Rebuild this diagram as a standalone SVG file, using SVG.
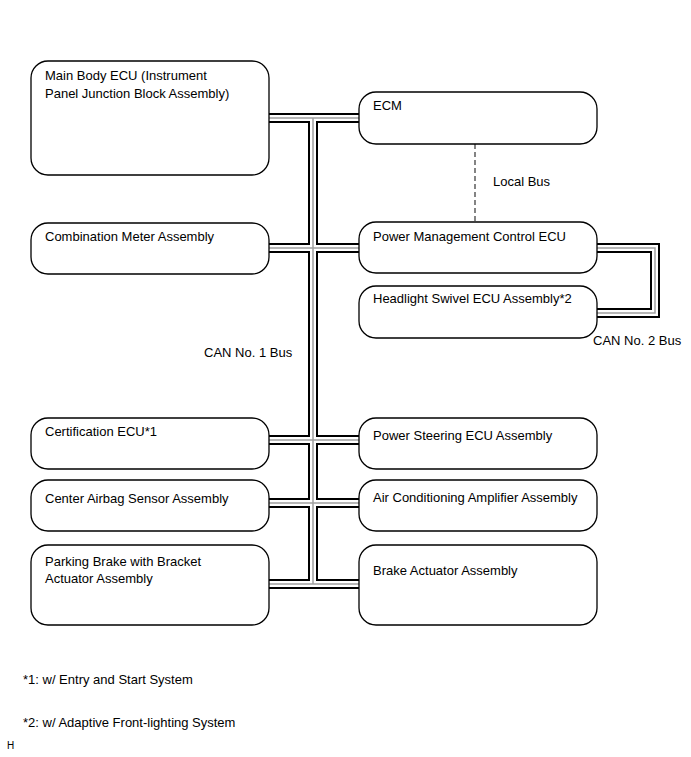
<svg xmlns="http://www.w3.org/2000/svg" width="691" height="757" viewBox="0 0 691 757">
<style>
.box{fill:#fff;stroke:#000;stroke-width:1.3}
.t{font-family:"Liberation Sans",Arial,sans-serif;font-size:13px;fill:#000}
.b1{fill:none;stroke:#000;stroke-width:10}
.b2{fill:none;stroke:#fff;stroke-width:6}
.b3{fill:none;stroke:#a0a0a0;stroke-width:1.5}
</style>
<rect width="691" height="757" fill="#fff"/>
<g id="connectors">
<g class="b1">
<path d="M269 118H359M313 118V584M269 248H359M269 440H359M269 503H359M269 584H359M597 248H655V313H597"/>
</g>
<g class="b2">
<path d="M269 118H359M313 118V584M269 248H359M269 440H359M269 503H359M269 584H359M597 248H655V313H597"/>
</g>
<g class="b3">
<path d="M269 118H359M313 118V584M269 248H359M269 440H359M269 503H359M269 584H359M597 248H655V313H597"/>
</g>
<line x1="475" y1="144" x2="475" y2="222" stroke="#333" stroke-width="1.2" stroke-dasharray="5,3"/>
<text class="t" x="493" y="186">Local Bus</text>
<text class="t" x="204" y="357">CAN No. 1 Bus</text>
<text class="t" x="593" y="345">CAN No. 2 Bus</text>
</g>
<g id="main-body-ecu">
<rect class="box" x="31" y="61" width="238" height="114" rx="17"/>
<text class="t" x="45" y="80">Main Body ECU (Instrument</text>
<text class="t" x="45" y="98">Panel Junction Block Assembly)</text>
</g>
<g id="ecm">
<rect class="box" x="359" y="92" width="238" height="52" rx="17"/>
<text class="t" x="373" y="110">ECM</text>
</g>
<g id="combination-meter">
<rect class="box" x="31" y="223" width="238" height="51" rx="17"/>
<text class="t" x="45" y="241">Combination Meter Assembly</text>
</g>
<g id="power-management">
<rect class="box" x="359" y="222" width="238" height="51" rx="17"/>
<text class="t" x="373" y="241">Power Management Control ECU</text>
</g>
<g id="headlight-swivel">
<rect class="box" x="359" y="286" width="238" height="52" rx="17"/>
<text class="t" x="373" y="303">Headlight Swivel ECU Assembly*2</text>
</g>
<g id="certification-ecu">
<rect class="box" x="31" y="418" width="238" height="51" rx="17"/>
<text class="t" x="45" y="436">Certification ECU*1</text>
</g>
<g id="power-steering">
<rect class="box" x="359" y="418" width="238" height="51" rx="17"/>
<text class="t" x="373" y="440">Power Steering ECU Assembly</text>
</g>
<g id="center-airbag">
<rect class="box" x="31" y="480" width="238" height="51" rx="17"/>
<text class="t" x="45" y="503">Center Airbag Sensor Assembly</text>
</g>
<g id="air-conditioning">
<rect class="box" x="359" y="480" width="238" height="51" rx="17"/>
<text class="t" x="373" y="502">Air Conditioning Amplifier Assembly</text>
</g>
<g id="parking-brake">
<rect class="box" x="31" y="545" width="238" height="80" rx="17"/>
<text class="t" x="45" y="566">Parking Brake with Bracket</text>
<text class="t" x="45" y="583">Actuator Assembly</text>
</g>
<g id="brake-actuator">
<rect class="box" x="359" y="545" width="238" height="80" rx="17"/>
<text class="t" x="373" y="575">Brake Actuator Assembly</text>
</g>
<text class="t" x="23" y="684">*1: w/ Entry and Start System</text>
<text class="t" x="23" y="727">*2: w/ Adaptive Front-lighting System</text>
<text class="t" x="7" y="749" style="font-size:10px">H</text>
</svg>
